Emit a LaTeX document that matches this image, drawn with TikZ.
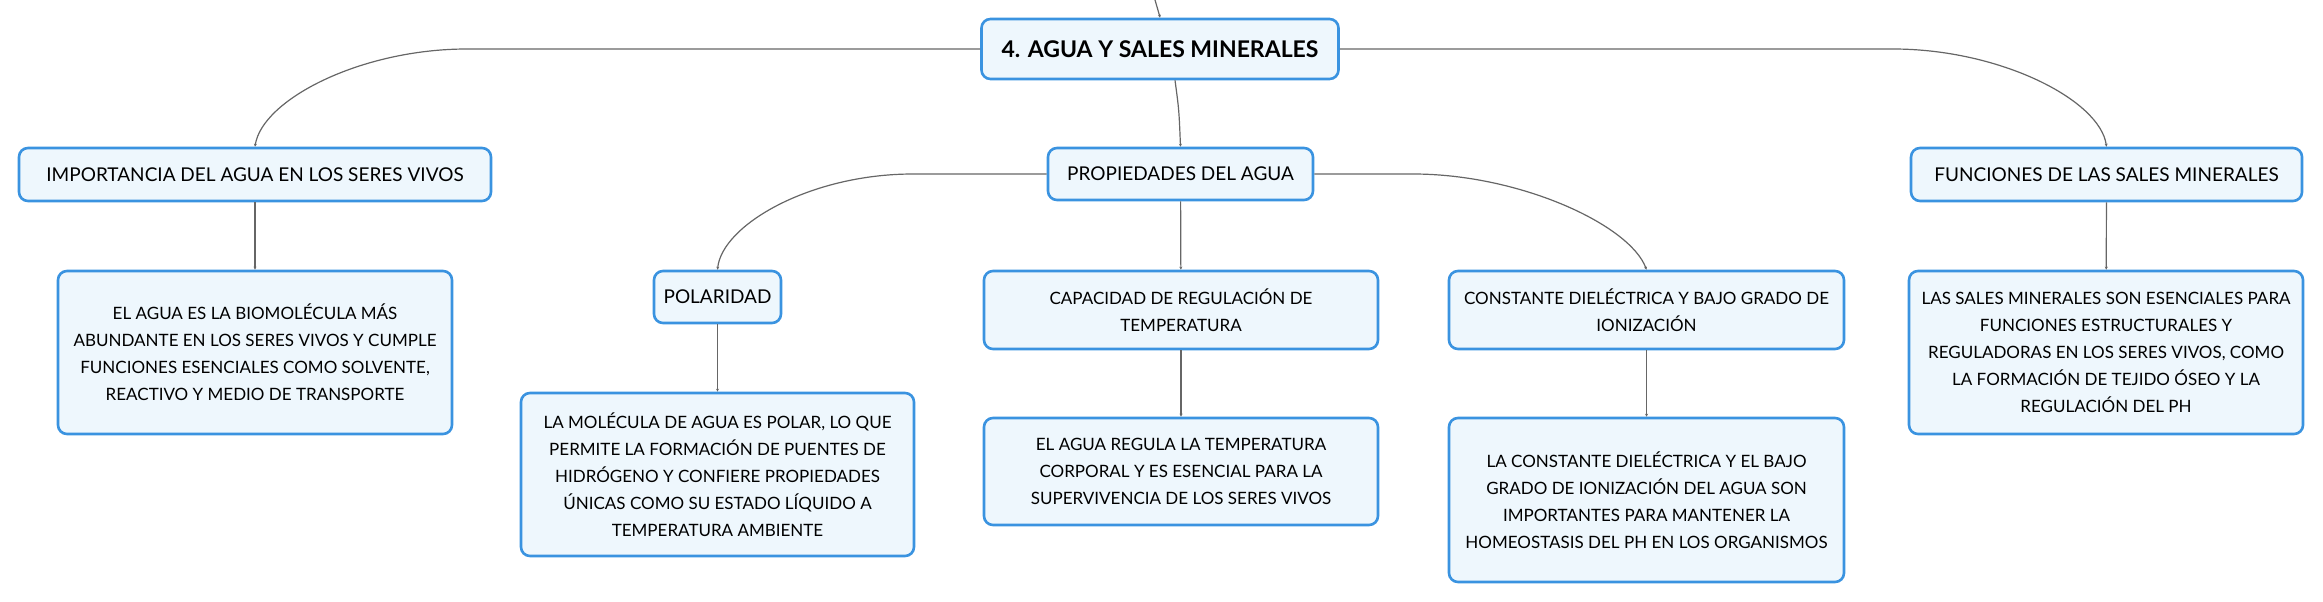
\documentclass[tikz,border=0pt]{standalone}
\usepackage{fontspec}
\setmainfont{Lato}
\usetikzlibrary{arrows.meta}
\definecolor{boxline}{HTML}{3A93E0}
\definecolor{boxfill}{HTML}{EEF7FD}
\definecolor{linkgray}{HTML}{666666}
\begin{document}
\begin{tikzpicture}[x=1pt,y=-1pt,
    box/.style={draw=boxline,fill=boxfill,line width=2.6pt,rounded corners=9pt,align=center,inner sep=0pt},
    head/.style={box,font=\fontsize{19}{27}\selectfont},
    desc/.style={box,font=\fontsize{17}{27}\selectfont},
    link/.style={draw=linkgray,line width=1.2pt,-{Stealth[length=3pt,width=3pt]}}]
  \useasboundingbox (0,0) rectangle (2323,602);
  \coordinate (top) at (1155,0);
  \node[box,minimum width=357pt,minimum height=60pt,font=\fontsize{23}{27}\selectfont\bfseries] (title) at (1160,49) {4. AGUA Y SALES MINERALES};
  \node[head,minimum width=472pt,minimum height=53pt] (imp) at (255,174.5) {IMPORTANCIA DEL AGUA EN LOS SERES VIVOS};
  \node[desc,minimum width=394pt,minimum height=163pt] (impd) at (255,352.5) {EL AGUA ES LA BIOMOLÉCULA MÁS\\ABUNDANTE EN LOS SERES VIVOS Y CUMPLE\\FUNCIONES ESENCIALES COMO SOLVENTE,\\REACTIVO Y MEDIO DE TRANSPORTE};
  \node[head,minimum width=265pt,minimum height=52pt] (prop) at (1180.5,174) {PROPIEDADES DEL AGUA};
  \node[head,minimum width=127pt,minimum height=52pt] (pol) at (717.5,297) {POLARIDAD};
  \node[desc,minimum width=393pt,minimum height=163pt] (pold) at (717.5,474.5) {LA MOLÉCULA DE AGUA ES POLAR, LO QUE\\PERMITE LA FORMACIÓN DE PUENTES DE\\HIDRÓGENO Y CONFIERE PROPIEDADES\\ÚNICAS COMO SU ESTADO LÍQUIDO A\\TEMPERATURA AMBIENTE};
  \node[desc,minimum width=394pt,minimum height=78pt] (cap) at (1181,310) {CAPACIDAD DE REGULACIÓN DE\\TEMPERATURA};
  \node[desc,minimum width=394pt,minimum height=107pt] (capd) at (1181,471.5) {EL AGUA REGULA LA TEMPERATURA\\CORPORAL Y ES ESENCIAL PARA LA\\SUPERVIVENCIA DE LOS SERES VIVOS};
  \node[desc,minimum width=395pt,minimum height=78pt] (con) at (1646.5,310) {CONSTANTE DIELÉCTRICA Y BAJO GRADO DE\\IONIZACIÓN};
  \node[desc,minimum width=395pt,minimum height=164pt] (cond) at (1646.5,500) {LA CONSTANTE DIELÉCTRICA Y EL BAJO\\GRADO DE IONIZACIÓN DEL AGUA SON\\IMPORTANTES PARA MANTENER LA\\HOMEOSTASIS DEL PH EN LOS ORGANISMOS};
  \node[head,minimum width=391pt,minimum height=53pt] (fun) at (2106.5,174.5) {FUNCIONES DE LAS SALES MINERALES};
  \node[desc,minimum width=394pt,minimum height=163pt] (fund) at (2106,352.5) {LAS SALES MINERALES SON ESENCIALES PARA\\FUNCIONES ESTRUCTURALES Y\\REGULADORAS EN LOS SERES VIVOS, COMO\\LA FORMACIÓN DE TEJIDO ÓSEO Y LA\\REGULACIÓN DEL PH};
  \draw[link] (top) .. controls (1158,8) .. (title.north);
  \draw[link] (title.west) -- (467,49) .. controls (360,49) and (262,100) .. (imp.north);
  \draw[link] (title.east) -- (1893,49) .. controls (2000,49) and (2100,100) .. (fun.north);
  \draw[link] ([xshift=15pt]title.south) .. controls (1179,110) .. (prop.north);
  \draw[link] (imp) -- (impd);
  \draw[link] (fun) -- (fund);
  \draw[link] (prop.west) -- (913,174) .. controls (810,174) and (722,225) .. (pol.north);
  \draw[link] (prop.east) -- (1413,174) .. controls (1520,174) and (1630,225) .. (con.north);
  \draw[link] (prop) -- (cap);
  \draw[link] (pol) -- (pold);
  \draw[link] (cap) -- (capd);
  \draw[link] (con) -- (cond);
\end{tikzpicture}
\end{document}
